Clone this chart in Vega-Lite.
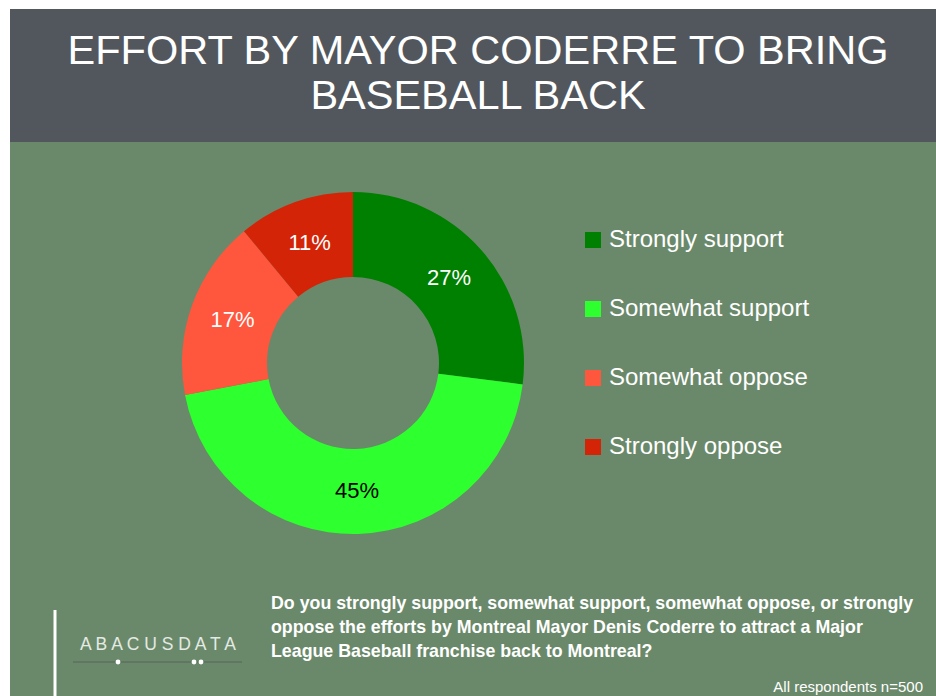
{
  "$schema": "https://vega.github.io/schema/vega-lite/v6.json",
  "background": "#ffffff",
  "padding": {"left": 10, "top": 9, "right": 0, "bottom": 0},
  "spacing": 0,
  "config": {
    "view": {"stroke": null},
    "font": "Liberation Sans",
    "text": {"font": "Liberation Sans"}
  },
  "vconcat": [
    {
      "width": 926,
      "height": 133,
      "view": {"fill": "#52575e", "stroke": null},
      "data": {"values": [
        {"line": 1, "text": "EFFORT BY MAYOR CODERRE TO BRING"},
        {"line": 2, "text": "BASEBALL BACK"}
      ]},
      "mark": {"type": "text", "fontSize": 41.5, "color": "#ffffff", "baseline": "alphabetic", "align": "center", "dx": 5},
      "encoding": {
        "y": {"field": "line", "type": "ordinal", "scale": {"type": "point", "range": [55, 100], "padding": 0}, "axis": null},
        "text": {"field": "text"}
      }
    },
    {
      "spacing": 0,
      "hconcat": [
        {
          "width": 163,
          "height": 442,
          "view": {"fill": "#6a896a", "stroke": null},
          "data": {"values": []},
          "mark": "text"
        },
        {
          "width": 360,
          "height": 442,
          "view": {"fill": "#6a896a", "stroke": null},
          "data": {"values": [
            {"category": "Strongly support", "pct": 0.27, "rank": 1},
            {"category": "Somewhat support", "pct": 0.45, "rank": 2},
            {"category": "Somewhat oppose", "pct": 0.17, "rank": 3},
            {"category": "Strongly oppose", "pct": 0.11, "rank": 4}
          ]},
          "layer": [
            {
              "mark": {"type": "arc", "innerRadius": 86, "outerRadius": 171, "strokeWidth": 0},
              "encoding": {
                "theta": {"field": "pct", "type": "quantitative", "stack": true},
                "order": {"field": "rank", "type": "quantitative"},
                "color": {
                  "field": "category",
                  "type": "nominal",
                  "scale": {
                    "domain": ["Strongly support", "Somewhat support", "Somewhat oppose", "Strongly oppose"],
                    "range": ["#008000", "#2eff2e", "#ff563e", "#d42408"]
                  },
                  "legend": {
                    "orient": "none",
                    "legendX": 571,
                    "legendY": 219,
                    "title": null,
                    "padding": 0,
                    "symbolType": "square",
                    "symbolSize": 256,
                    "symbolStrokeWidth": 0,
                    "symbolOpacity": 1,
                    "labelFont": "Liberation Sans",
                    "labelFontSize": 24,
                    "labelColor": "#ffffff",
                    "labelOffset": 4,
                    "labelLimit": 400,
                    "rowPadding": 45
                  }
                }
              }
            },
            {
              "mark": {"type": "text", "radius": 128, "fontSize": 22, "align": "center", "baseline": "middle"},
              "encoding": {
                "theta": {"field": "pct", "type": "quantitative", "stack": true},
                "order": {"field": "rank", "type": "quantitative"},
                "detail": {"field": "category", "type": "nominal"},
                "text": {"field": "pct", "type": "quantitative", "format": ".0%"},
                "color": {
                  "condition": {"test": "datum.category === 'Somewhat support'", "value": "#000000"},
                  "value": "#ffffff"
                }
              }
            }
          ]
        },
        {
          "width": 403,
          "height": 442,
          "view": {"fill": "#6a896a", "stroke": null},
          "data": {"values": []},
          "mark": "text"
        }
      ]
    },
    {
      "width": 926,
      "height": 112,
      "view": {"fill": "#6a896a", "stroke": null},
      "layer": [
        {
          "data": {"values": [
            {"line": 1, "text": "Do you strongly support, somewhat support, somewhat oppose, or strongly"},
            {"line": 2, "text": "oppose the efforts by Montreal Mayor Denis Coderre to attract a Major"},
            {"line": 3, "text": "League Baseball franchise back to Montreal?"}
          ]},
          "mark": {"type": "text", "align": "left", "baseline": "alphabetic", "fontSize": 17.8, "fontWeight": "bold", "color": "#ffffff"},
          "encoding": {
            "x": {"value": 261},
            "y": {"field": "line", "type": "ordinal", "scale": {"type": "point", "range": [25, 73], "padding": 0}, "axis": null},
            "text": {"field": "text"}
          }
        },
        {
          "data": {"values": [{"note": "All respondents n=500"}]},
          "mark": {"type": "text", "align": "right", "baseline": "alphabetic", "fontSize": 15, "color": "#ffffff"},
          "encoding": {"x": {"value": 913}, "y": {"value": 108}, "text": {"field": "note"}}
        },
        {
          "data": {"values": [{"logo": "A B A C U S D A T A"}]},
          "mark": {"type": "text", "align": "center", "baseline": "alphabetic", "fontSize": 17.5, "color": "#e4eae4"},
          "encoding": {"x": {"value": 148}, "y": {"value": 66}, "text": {"field": "logo"}}
        },
        {
          "data": {"values": [{}]},
          "mark": {"type": "rule", "color": "#56645a", "strokeWidth": 1.2},
          "encoding": {"x": {"value": 63}, "x2": {"value": 232}, "y": {"value": 78}}
        },
        {
          "data": {"values": [{}]},
          "mark": {"type": "point", "shape": "circle", "filled": true, "color": "#ffffff", "opacity": 1, "size": 24},
          "encoding": {"x": {"value": 108}, "y": {"value": 78}}
        },
        {
          "data": {"values": [{}]},
          "mark": {"type": "point", "shape": "circle", "filled": true, "color": "#ffffff", "opacity": 1, "size": 24},
          "encoding": {"x": {"value": 184}, "y": {"value": 78}}
        },
        {
          "data": {"values": [{}]},
          "mark": {"type": "point", "shape": "circle", "filled": true, "color": "#ffffff", "opacity": 1, "size": 24},
          "encoding": {"x": {"value": 191}, "y": {"value": 78}}
        },
        {
          "data": {"values": [{}]},
          "mark": {"type": "rule", "color": "#ffffff", "strokeWidth": 3},
          "encoding": {"x": {"value": 45}, "y": {"value": 26}, "y2": {"value": 112}}
        }
      ]
    }
  ]
}
